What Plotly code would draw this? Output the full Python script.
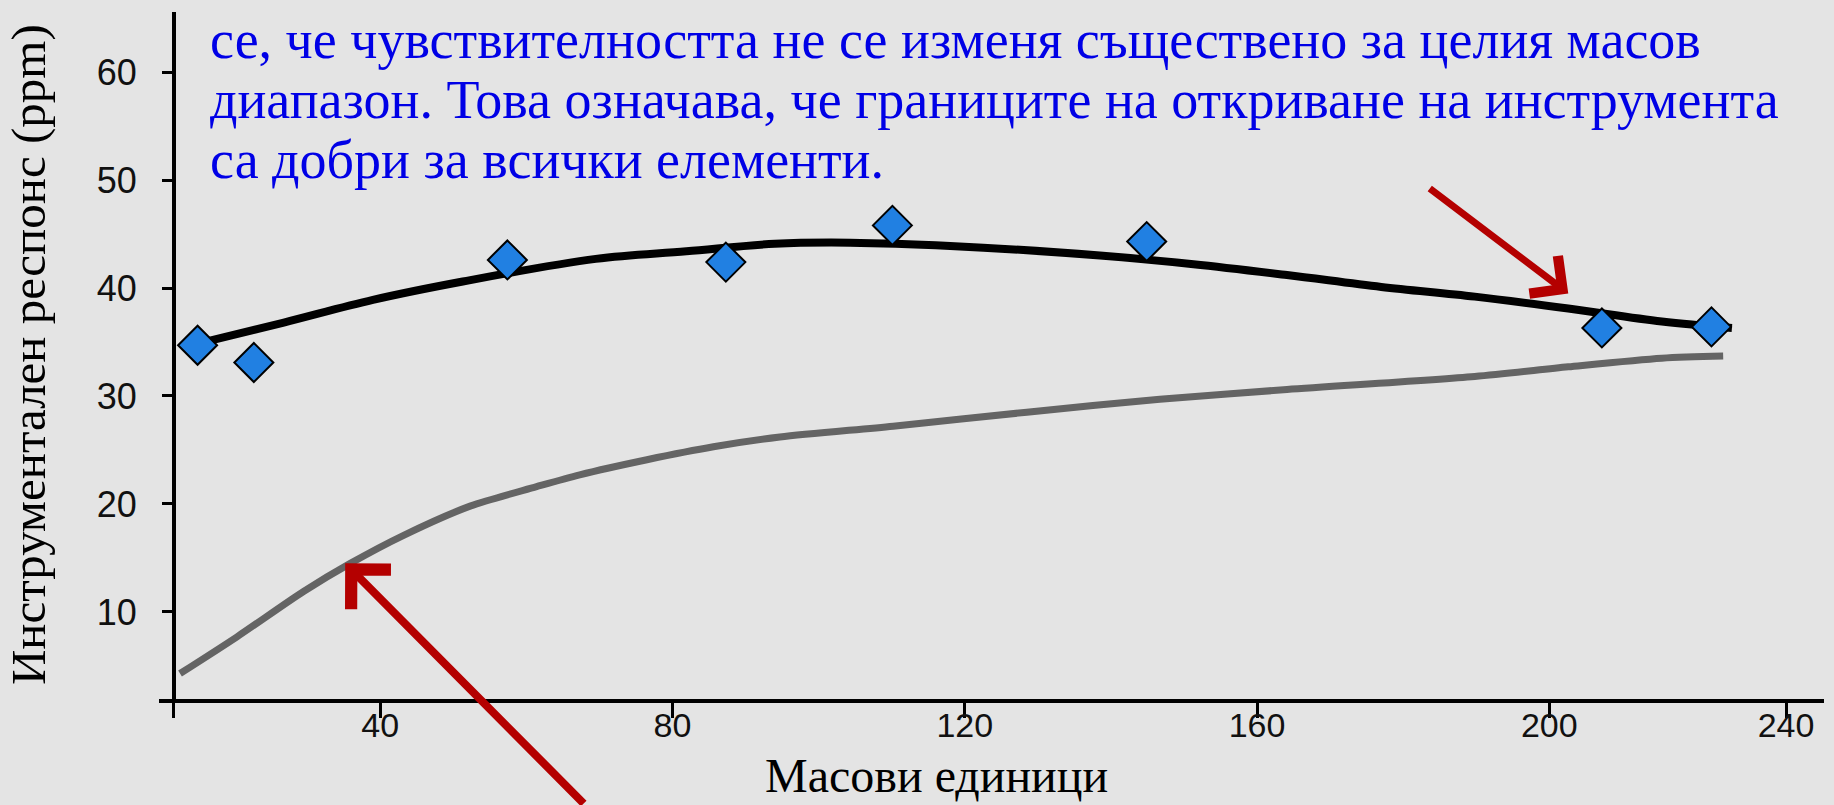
import plotly.graph_objects as go

# Measured points: mass units vs. instrument response (ppm).
mass = [15.0, 22.7, 57.4, 87.3, 110.1, 144.9, 207.2, 222.2]
response = [34.7, 33.1, 42.6, 42.4, 45.8, 44.3, 36.3, 36.4]

# Black fitted curve.
fit_mass = [15.3, 26.8, 39.0, 51.3, 69.5, 81.9, 94.0, 104.3, 118.0, 138.5,
            151.3, 164.1, 177.0, 189.8, 202.6, 215.4, 225.0]
fit_resp = [34.9, 36.8, 38.9, 40.6, 42.7, 43.4, 44.1, 44.2, 43.9, 43.0,
            42.2, 41.2, 40.1, 39.2, 38.1, 36.9, 36.3]

# Grey curve.
grey_mass = [12.6, 20.4, 29.5, 35.9, 43.2, 52.3, 61.4, 67.3, 76.5, 85.6, 94.7,
             110.2, 128.5, 146.7, 164.1, 189.8, 202.6, 215.4, 223.8]
grey_resp = [4.3, 7.7, 11.9, 14.5, 17.1, 19.8, 21.6, 22.7, 24.1, 25.3, 26.2,
             27.2, 28.5, 29.7, 30.6, 31.8, 32.7, 33.5, 33.7]

# Axis ticks as drawn in the picture.
x_tick_vals = [11.7, 40, 80, 120, 160, 200, 232.4]
x_tick_text = ["", "40", "80", "120", "160", "200", "240"]
y_tick_vals = [10, 20, 30, 40, 50, 60]

text_lines = [
    "се, че чувствителността не се изменя съществено за целия масов",
    "диапазон. Това означава, че границите на откриване на инструмента",
    "са добри за всички елементи.",
]
text_y = [0.959, 0.872, 0.785]

bg = "#E4E4E4"
serif = "Liberation Serif, Times New Roman, serif"
sans = "Liberation Sans, Arial, sans-serif"

fig = go.Figure()

fig.add_trace(go.Scatter(x=grey_mass, y=grey_resp, mode="lines",
                         line=dict(color="#646464", width=7, shape="spline",
                                   smoothing=0.8),
                         hoverinfo="skip"))
fig.add_trace(go.Scatter(x=fit_mass, y=fit_resp, mode="lines",
                         line=dict(color="black", width=8, shape="spline"),
                         hoverinfo="skip"))
fig.add_trace(go.Scatter(x=mass, y=response, mode="markers",
                         marker=dict(symbol="diamond", size=30, color="#2180E2",
                                     line=dict(color="black", width=2))))

# Blue explanatory text.
for line, ty in zip(text_lines, text_y):
    fig.add_annotation(text=line, xref="paper", yref="paper",
                       x=0.0295, y=ty, xanchor="left", yanchor="middle",
                       showarrow=False,
                       font=dict(family=serif, size=54, color="#0000E6"))

# Red arrows.
fig.add_annotation(x=35.2, y=14.5, ax=240, ay=245, text="",
                   showarrow=True, arrowhead=4, arrowsize=1.35, arrowwidth=8,
                   arrowcolor="#B40000", standoff=0)
fig.add_annotation(x=202.6, y=39.5, ax=-140, ay=-106, text="",
                   showarrow=True, arrowhead=4, arrowsize=1.3, arrowwidth=7,
                   arrowcolor="#B40000", standoff=0)

# Axis titles.
fig.add_annotation(text="Инструментален респонс (ppm)", xref="paper", yref="paper",
                   x=-0.0787, y=0.502, textangle=-90, showarrow=False,
                   xanchor="center", yanchor="middle",
                   font=dict(family=serif, size=49, color="black"))
fig.add_annotation(text="Масови единици", xref="paper", yref="paper",
                   x=0.4667, y=-0.1528, showarrow=False,
                   xanchor="center", yanchor="bottom",
                   font=dict(family=serif, size=48, color="black"))

fig.update_layout(
    width=1834, height=805,
    margin=dict(l=159, r=10, t=12, b=106),
    paper_bgcolor=bg, plot_bgcolor=bg,
    showlegend=False,
    xaxis=dict(range=[9.72, 237.6], showgrid=False, zeroline=False,
               showline=True, linecolor="black", linewidth=4,
               ticks="outside", ticklen=15, tickwidth=3, tickcolor="black",
               tickvals=x_tick_vals, ticktext=x_tick_text,
               ticklabelstandoff=-22,
               tickfont=dict(family=sans, size=34, color="#111")),
    yaxis=dict(range=[1.94, 65.56], showgrid=False, zeroline=False,
               showline=True, linecolor="black", linewidth=4,
               anchor="free", position=0.009,
               ticks="outside", ticklen=10, tickwidth=3, tickcolor="black",
               tickvals=y_tick_vals, ticklabelstandoff=18,
               tickfont=dict(family=sans, size=36, color="#111")),
)

# Remove the page's default body margin so the figure fills the window.
fig.write_html("out.html", config={"displayModeBar": False},
               post_script="document.body.style.margin='0';")
